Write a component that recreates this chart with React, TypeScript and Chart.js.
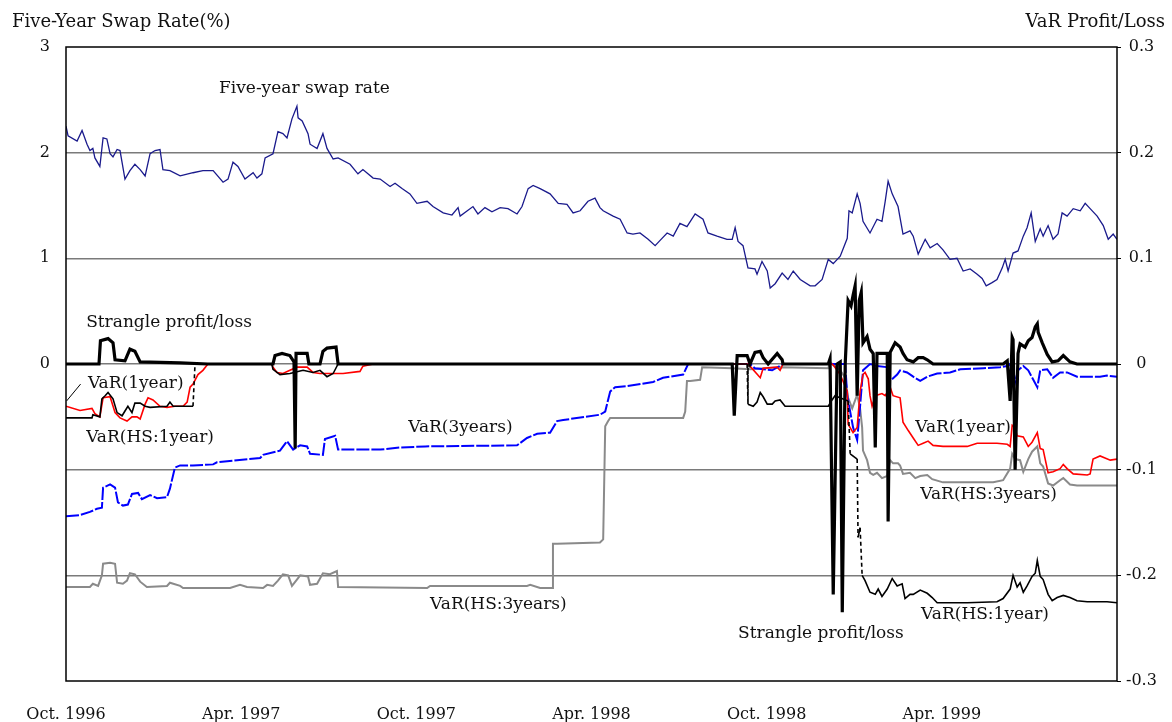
import React, { useEffect, useRef } from 'react';
import { Chart, registerables } from 'chart.js';
Chart.register(...registerables);

const FONT = '"DejaVu Serif", serif';

// x axis: months since Oct. 1996
const xTickLabels = ['Oct. 1996', 'Apr. 1997', 'Oct. 1997', 'Apr. 1998', 'Oct. 1998', 'Apr. 1999', ''];
const leftTickLabels = ['3', '2', '1', '0'];

// Five-year swap rate (%) - left axis
const swapMonths = [0, 0.07, 0.38, 0.55, 0.72, 0.82, 0.92, 0.99, 1.16, 1.27, 1.4, 1.51, 1.61, 1.75, 1.85, 2.02, 2.19, 2.36, 2.54, 2.71, 2.88, 3.05, 3.22, 3.32, 3.56, 3.91, 4.35, 4.69, 5.04, 5.38, 5.55, 5.72, 5.89, 6.13, 6.41, 6.54, 6.71, 6.82, 7.09, 7.26, 7.43, 7.57, 7.74, 7.91, 7.95, 8.09, 8.29, 8.36, 8.6, 8.8, 8.94, 9.15, 9.32, 9.73, 10.0, 10.17, 10.52, 10.76, 11.1, 11.27, 11.51, 11.78, 12.02, 12.37, 12.57, 12.92, 13.22, 13.43, 13.5, 13.94, 14.11, 14.35, 14.59, 14.87, 15.14, 15.45, 15.62, 15.83, 16.0, 16.24, 16.58, 16.86, 17.16, 17.37, 17.61, 17.88, 18.12, 18.29, 18.4, 18.74, 18.98, 19.22, 19.42, 19.66, 19.94, 20.18, 20.35, 20.59, 20.8, 21.03, 21.27, 21.55, 21.82, 21.99, 22.3, 22.64, 22.82, 22.92, 23.02, 23.19, 23.36, 23.6, 23.67, 23.84, 24.02, 24.12, 24.29, 24.53, 24.73, 24.91, 25.15, 25.49, 25.66, 25.9, 26.11, 26.28, 26.52, 26.76, 26.82, 26.93, 27.1, 27.2, 27.3, 27.54, 27.78, 27.95, 28.06, 28.16, 28.3, 28.5, 28.67, 28.91, 29.02, 29.19, 29.43, 29.6, 29.84, 30.04, 30.28, 30.52, 30.73, 30.97, 31.21, 31.38, 31.52, 31.72, 31.89, 32.07, 32.17, 32.27, 32.44, 32.61, 32.79, 32.92, 33.06, 33.2, 33.37, 33.47, 33.64, 33.81, 33.98, 34.12, 34.29, 34.5, 34.74, 34.91, 35.08, 35.32, 35.53, 35.7, 35.87, 36.0];
const swapRate = [2.25, 2.16, 2.11, 2.21, 2.08, 2.02, 2.04, 1.95, 1.87, 2.14, 2.13, 1.99, 1.96, 2.03, 2.02, 1.75, 1.83, 1.89, 1.84, 1.78, 1.99, 2.02, 2.03, 1.84, 1.83, 1.78, 1.81, 1.83, 1.83, 1.72, 1.75, 1.91, 1.87, 1.75, 1.81, 1.76, 1.8, 1.95, 1.99, 2.2, 2.18, 2.14, 2.32, 2.44, 2.33, 2.3, 2.18, 2.08, 2.04, 2.18, 2.04, 1.94, 1.95, 1.89, 1.8, 1.84, 1.76, 1.75, 1.68, 1.71, 1.66, 1.61, 1.52, 1.54, 1.49, 1.43, 1.41, 1.48, 1.4, 1.49, 1.42, 1.48, 1.44, 1.48, 1.47, 1.42, 1.49, 1.66, 1.69, 1.66, 1.61, 1.52, 1.51, 1.43, 1.45, 1.54, 1.57, 1.48, 1.45, 1.4, 1.37, 1.24, 1.23, 1.24, 1.18, 1.12, 1.17, 1.24, 1.21, 1.33, 1.3, 1.42, 1.37, 1.24, 1.21, 1.18, 1.18, 1.29, 1.16, 1.12, 0.91, 0.9, 0.85, 0.97, 0.88, 0.72, 0.76, 0.86, 0.8, 0.88, 0.8, 0.74, 0.74, 0.8, 0.99, 0.95, 1.02, 1.19, 1.45, 1.43, 1.61, 1.52, 1.35, 1.24, 1.37, 1.35, 1.54, 1.73, 1.61, 1.49, 1.23, 1.26, 1.21, 1.04, 1.18, 1.1, 1.14, 1.08, 0.99, 1.0, 0.88, 0.9, 0.85, 0.81, 0.74, 0.77, 0.8, 0.91, 0.99, 0.88, 1.05, 1.07, 1.21, 1.29, 1.43, 1.16, 1.28, 1.21, 1.31, 1.18, 1.23, 1.43, 1.4, 1.47, 1.45, 1.52, 1.47, 1.4, 1.31, 1.18, 1.23, 1.18];

// Strangle profit/loss - right axis
const strangleMonths = [0, 1.13, 1.18, 1.44, 1.61, 1.68, 2.02, 2.19, 2.36, 2.54, 3.91, 4.86, 7.09, 7.16, 7.4, 7.67, 7.81, 7.85, 7.88, 8.26, 8.32, 8.7, 8.8, 8.94, 9.25, 9.32, 22.82, 22.89, 22.99, 23.33, 23.43, 23.6, 23.78, 23.88, 24.05, 24.36, 24.53, 24.56, 26.11, 26.17, 26.28, 26.41, 26.52, 26.59, 26.69, 26.79, 26.89, 26.96, 27.03, 27.1, 27.17, 27.24, 27.3, 27.44, 27.54, 27.65, 27.72, 27.78, 28.13, 28.16, 28.23, 28.4, 28.57, 28.67, 28.81, 29.02, 29.19, 29.36, 29.5, 29.7, 32.1, 32.24, 32.34, 32.41, 32.44, 32.51, 32.61, 32.68, 32.85, 32.96, 33.09, 33.2, 33.27, 33.3, 33.44, 33.61, 33.78, 33.98, 34.16, 34.39, 34.63, 36.0];
const strangleValues = [0, 0, 0.022, 0.024, 0.02, 0.004, 0.003, 0.014, 0.012, 0.002, 0.001, 0, 0, 0.008, 0.01, 0.008, 0.002, -0.08, 0.01, 0.01, 0, 0, 0.012, 0.015, 0.016, 0, 0, -0.049, 0.008, 0.008, 0, 0.011, 0.012, 0.006, 0, 0.01, 0.004, 0, 0, 0.005, -0.218, 0, 0.002, -0.235, 0, 0.06, 0.055, 0.065, 0.074, -0.03, 0.06, 0.068, 0.02, 0.026, 0.014, 0.01, -0.079, 0.01, 0.01, -0.149, 0.011, 0.02, 0.016, 0.01, 0.004, 0.002, 0.006, 0.006, 0.004, 0, 0, 0.003, -0.035, 0.025, 0.023, -0.1, 0.01, 0.019, 0.016, 0.022, 0.025, 0.035, 0.038, 0.03, 0.02, 0.009, 0.002, 0.003, 0.008, 0.002, 0, 0];

// VaR (1 year) - red
const var1Months = [0, 0.48, 0.89, 0.99, 1.16, 1.27, 1.51, 1.68, 1.85, 2.09, 2.26, 2.43, 2.54, 2.71, 2.81, 2.98, 3.22, 3.46, 3.73, 4.01, 4.15, 4.25, 4.35, 4.52, 4.69, 4.86, 7.05, 7.09, 7.23, 7.43, 7.67, 7.91, 8.26, 8.46, 8.7, 8.94, 9.28, 9.49, 10.07, 10.17, 10.52, 23.36, 23.43, 23.78, 23.88, 24.36, 24.46, 24.56, 26.24, 26.28, 26.52, 26.76, 26.79, 26.96, 27.1, 27.2, 27.3, 27.37, 27.48, 27.54, 27.61, 27.72, 27.95, 28.06, 28.23, 28.33, 28.57, 28.67, 28.85, 29.02, 29.19, 29.36, 29.53, 29.7, 30.04, 30.87, 31.21, 31.55, 31.89, 32.24, 32.34, 32.41, 32.51, 32.58, 32.79, 32.96, 33.09, 33.27, 33.37, 33.47, 33.64, 33.81, 34.05, 34.16, 34.29, 34.5, 34.98, 35.08, 35.18, 35.42, 35.77, 36.0];
const var1Values = [-0.04, -0.044, -0.042, -0.047, -0.05, -0.032, -0.031, -0.046, -0.051, -0.054, -0.05, -0.05, -0.052, -0.038, -0.032, -0.034, -0.04, -0.041, -0.04, -0.04, -0.036, -0.022, -0.019, -0.01, -0.006, 0, 0, -0.003, -0.008, -0.009, -0.006, -0.003, -0.003, -0.008, -0.009, -0.009, -0.009, -0.009, -0.007, -0.002, 0, 0, -0.002, -0.013, -0.004, -0.003, -0.006, 0, 0, -0.001, -0.01, -0.026, -0.057, -0.065, -0.06, -0.026, -0.01, -0.008, -0.014, -0.03, -0.04, -0.03, -0.028, -0.03, -0.022, -0.03, -0.032, -0.055, -0.063, -0.07, -0.077, -0.075, -0.073, -0.077, -0.078, -0.078, -0.075, -0.075, -0.075, -0.076, -0.078, -0.058, -0.06, -0.068, -0.069, -0.078, -0.074, -0.065, -0.08, -0.081, -0.103, -0.102, -0.099, -0.095, -0.099, -0.104, -0.105, -0.104, -0.09, -0.087, -0.091, -0.09];

// VaR (3 years) - blue
const var3Months = [0, 0.48, 0.82, 1.06, 1.23, 1.27, 1.51, 1.68, 1.78, 1.95, 2.12, 2.26, 2.47, 2.6, 2.88, 3.12, 3.46, 3.56, 3.73, 3.91, 4.35, 5.04, 5.17, 6.65, 6.75, 7.33, 7.57, 7.78, 8.02, 8.26, 8.36, 8.8, 8.87, 9.22, 9.32, 9.73, 10.76, 11.45, 12.3, 15.45, 15.79, 16.14, 16.58, 16.82, 17.03, 18.29, 18.47, 18.64, 18.81, 19.22, 20.11, 20.45, 21.14, 21.31, 23.43, 23.6, 24.19, 24.56, 26.69, 26.76, 26.96, 27.1, 27.2, 27.3, 27.54, 27.78, 28.13, 28.23, 28.47, 28.57, 28.81, 29.02, 29.26, 29.5, 29.84, 30.28, 30.63, 31.42, 32.0, 32.24, 32.34, 32.51, 32.61, 32.79, 32.96, 33.27, 33.37, 33.61, 33.81, 34.05, 34.29, 34.63, 35.42, 35.66, 36.0];
const var3Values = [-0.144, -0.143, -0.14, -0.137, -0.136, -0.117, -0.114, -0.117, -0.131, -0.134, -0.133, -0.123, -0.122, -0.128, -0.124, -0.127, -0.126, -0.118, -0.098, -0.096, -0.096, -0.095, -0.093, -0.089, -0.086, -0.082, -0.073, -0.081, -0.077, -0.078, -0.085, -0.086, -0.071, -0.068, -0.081, -0.081, -0.081, -0.079, -0.078, -0.077, -0.07, -0.066, -0.065, -0.054, -0.053, -0.048, -0.045, -0.026, -0.022, -0.021, -0.017, -0.013, -0.01, 0, 0, -0.004, -0.006, 0, 0, -0.03, -0.06, -0.072, -0.04, -0.006, 0, -0.002, -0.003, -0.016, -0.01, -0.006, -0.008, -0.012, -0.016, -0.012, -0.009, -0.008, -0.005, -0.004, -0.003, -0.002, 0, -0.017, -0.006, -0.002, -0.006, -0.022, -0.006, -0.005, -0.013, -0.008, -0.008, -0.012, -0.012, -0.011, -0.012];

// VaR (HS: 1 year) - thin black
const hs1Months = [0, 0.89, 0.92, 1.16, 1.23, 1.34, 1.44, 1.61, 1.75, 1.92, 2.12, 2.26, 2.36, 2.54, 2.71, 2.88, 3.46, 3.56, 3.67, 4.35, 4.42, 7.05, 7.09, 7.33, 7.67, 8.12, 8.46, 8.7, 8.94, 9.15, 9.32, 23.33, 23.36, 23.54, 23.67, 23.78, 23.88, 24.02, 24.19, 24.29, 24.46, 24.63, 26.11, 26.24, 26.34, 26.79, 26.86, 27.1, 27.13, 27.2, 27.27, 27.37, 27.54, 27.72, 27.82, 27.95, 28.13, 28.3, 28.47, 28.64, 28.74, 28.91, 29.02, 29.26, 29.5, 29.67, 29.84, 30.87, 31.89, 32.1, 32.34, 32.44, 32.58, 32.68, 32.79, 32.92, 33.09, 33.2, 33.27, 33.37, 33.47, 33.64, 33.78, 33.95, 34.16, 34.39, 34.63, 34.98, 35.66, 36.0];
const hs1Values = [-0.051, -0.051, -0.048, -0.05, -0.033, -0.03, -0.027, -0.033, -0.046, -0.049, -0.04, -0.046, -0.037, -0.037, -0.04, -0.041, -0.04, -0.036, -0.04, -0.04, 0, 0, -0.005, -0.01, -0.009, -0.006, -0.008, -0.006, -0.012, -0.009, 0, 0, -0.038, -0.04, -0.036, -0.027, -0.031, -0.038, -0.038, -0.035, -0.034, -0.04, -0.04, -0.034, -0.03, -0.035, -0.085, -0.09, -0.164, -0.155, -0.2, -0.205, -0.216, -0.218, -0.213, -0.22, -0.213, -0.203, -0.21, -0.208, -0.222, -0.218, -0.218, -0.214, -0.217, -0.221, -0.226, -0.226, -0.225, -0.222, -0.213, -0.2, -0.211, -0.207, -0.216, -0.21, -0.201, -0.198, -0.186, -0.201, -0.204, -0.218, -0.224, -0.221, -0.219, -0.221, -0.224, -0.225, -0.225, -0.226];

// VaR (HS: 3 years) - gray
const hs3Months = [0, 0.82, 0.92, 1.1, 1.23, 1.27, 1.51, 1.68, 1.75, 1.95, 2.09, 2.19, 2.36, 2.54, 2.77, 3.46, 3.56, 3.91, 4.01, 5.62, 5.96, 6.2, 6.75, 6.89, 7.09, 7.26, 7.43, 7.61, 7.74, 7.91, 8.02, 8.29, 8.36, 8.6, 8.8, 9.04, 9.28, 9.32, 12.37, 12.47, 15.79, 15.9, 16.24, 16.65, 16.68, 16.82, 18.29, 18.4, 18.47, 18.57, 18.64, 21.14, 21.21, 21.27, 21.38, 21.72, 21.79, 22.82, 23.43, 24.46, 26.11, 26.17, 26.28, 26.52, 26.69, 26.79, 26.93, 27.1, 27.2, 27.27, 27.3, 27.44, 27.54, 27.65, 27.78, 27.95, 28.13, 28.23, 28.33, 28.5, 28.57, 28.67, 28.91, 29.09, 29.26, 29.5, 29.67, 30.04, 30.87, 31.76, 32.1, 32.34, 32.41, 32.51, 32.68, 32.79, 32.96, 33.09, 33.27, 33.37, 33.47, 33.64, 33.81, 34.05, 34.16, 34.39, 34.63, 35.42, 36.0];
const hs3Values = [-0.211, -0.211, -0.208, -0.21, -0.2, -0.189, -0.188, -0.189, -0.207, -0.208, -0.205, -0.198, -0.199, -0.206, -0.211, -0.21, -0.207, -0.21, -0.212, -0.212, -0.209, -0.211, -0.212, -0.209, -0.21, -0.205, -0.199, -0.2, -0.21, -0.204, -0.2, -0.201, -0.209, -0.208, -0.198, -0.199, -0.196, -0.211, -0.212, -0.21, -0.21, -0.209, -0.212, -0.212, -0.17, -0.17, -0.169, -0.166, -0.059, -0.054, -0.051, -0.051, -0.045, -0.016, -0.016, -0.015, -0.003, -0.004, -0.005, -0.003, -0.004, 0.002, -0.001, -0.006, -0.013, -0.032, -0.042, -0.029, -0.042, -0.06, -0.082, -0.091, -0.103, -0.105, -0.103, -0.108, -0.106, -0.091, -0.094, -0.094, -0.096, -0.104, -0.103, -0.108, -0.106, -0.105, -0.109, -0.112, -0.112, -0.112, -0.11, -0.099, -0.085, -0.09, -0.091, -0.102, -0.09, -0.083, -0.078, -0.094, -0.097, -0.113, -0.115, -0.11, -0.108, -0.114, -0.115, -0.115, -0.115];

// In-chart labels (month, right-axis value)
const noteTexts = ['Five-year swap rate', 'Strangle profit/loss', 'VaR(1year)', 'VaR(HS:1year)', 'VaR(3years)', 'VaR(HS:3years)', 'Strangle profit/loss', 'VaR(1year)', 'VaR(HS:3years)', 'VaR(HS:1year)'];
const noteMonths = [5.24, 0.69, 0.75, 0.69, 11.72, 12.47, 23.02, 29.09, 29.26, 29.29];
const noteValues = [0.2605, 0.039, -0.019, -0.07, -0.06, -0.228, -0.255, -0.06, -0.124, -0.237];
const leaderMonths = [0.5, 0.02];
const leaderValues = [-0.019, -0.035];

const zip = (xs: number[], ys: number[]) => xs.map((x, i) => ({ x, y: ys[i] }));

const overlay = {
  id: 'overlay',
  afterDatasetsDraw(chart: any) {
    const { ctx, chartArea } = chart;
    const xs = chart.scales.x;
    const yr = chart.scales.yR;
    ctx.save();
    ctx.strokeStyle = '#000';
    ctx.lineWidth = 1.5;
    ctx.strokeRect(chartArea.left, chartArea.top, chartArea.right - chartArea.left, chartArea.bottom - chartArea.top);
    ctx.fillStyle = '#111';
    ctx.font = `17px ${FONT}`;
    ctx.textAlign = 'left';
    ctx.textBaseline = 'middle';
    noteTexts.forEach((t, i) => {
      ctx.fillText(t, xs.getPixelForValue(noteMonths[i]), yr.getPixelForValue(noteValues[i]));
    });
    ctx.lineWidth = 1;
    ctx.beginPath();
    ctx.moveTo(xs.getPixelForValue(leaderMonths[0]), yr.getPixelForValue(leaderValues[0]));
    ctx.lineTo(xs.getPixelForValue(leaderMonths[1]), yr.getPixelForValue(leaderValues[1]));
    ctx.stroke();
    ctx.font = `18px ${FONT}`;
    ctx.fillText('Five-Year Swap Rate(%)', 12, 22);
    ctx.textAlign = 'right';
    ctx.fillText('VaR Profit/Loss', 1165, 22);
    ctx.restore();
  },
};

export default function App() {
  const ref = useRef<HTMLCanvasElement>(null);
  useEffect(() => {
    if (!ref.current) return;
    const bigJump = (c: any) => {
      const dx = c.p1.parsed.x - c.p0.parsed.x;
      const dy = Math.abs(c.p1.parsed.y - c.p0.parsed.y);
      return dy > 0.02 && dx < 0.15 ? [4, 3] : undefined;
    };
    const chart = new Chart(ref.current, {
      type: 'line',
      data: {
        datasets: [
          { label: 'Strangle profit/loss', data: zip(strangleMonths, strangleValues), yAxisID: 'yR', borderColor: '#000', borderWidth: 3.2, order: 0 },
          { label: 'Five-year swap rate', data: zip(swapMonths, swapRate), yAxisID: 'yL', borderColor: '#1a1a8c', borderWidth: 1.3, order: 1 },
          { label: 'VaR(HS:1year)', data: zip(hs1Months, hs1Values), yAxisID: 'yR', borderColor: '#000', borderWidth: 1.6, order: 2, segment: { borderDash: bigJump } },
          { label: 'VaR(1year)', data: zip(var1Months, var1Values), yAxisID: 'yR', borderColor: '#ff0000', borderWidth: 1.6, order: 3 },
          { label: 'VaR(3years)', data: zip(var3Months, var3Values), yAxisID: 'yR', borderColor: '#0000ff', borderWidth: 2, borderDash: [13, 2], order: 4 },
          { label: 'VaR(HS:3years)', data: zip(hs3Months, hs3Values), yAxisID: 'yR', borderColor: '#8a8a8a', borderWidth: 2, order: 5 },
        ] as any,
      },
      options: {
        animation: false,
        responsive: false,
        maintainAspectRatio: false,
        devicePixelRatio: 1,
        layout: { padding: { top: 47, bottom: 0, left: 0, right: 0 } },
        elements: { point: { radius: 0 }, line: { tension: 0 } },
        plugins: { legend: { display: false }, tooltip: { enabled: false }, title: { display: false } },
        scales: {
          x: {
            type: 'linear',
            min: 0,
            max: 36,
            afterFit: (s: any) => { s.height = 41; },
            grid: { display: false },
            border: { display: false },
            ticks: {
              stepSize: 6,
              autoSkip: false,
              maxRotation: 0,
              padding: 16,
              color: '#111',
              font: { family: FONT, size: 16 },
              callback: (v: any) => xTickLabels[Math.round(Number(v) / 6)] ?? '',
            },
          },
          yL: {
            type: 'linear',
            position: 'left',
            min: -3,
            max: 3,
            afterFit: (s: any) => { s.width = 66; },
            border: { display: false },
            grid: {
              drawTicks: false,
              lineWidth: 1.5,
              color: (c: any) => (Math.abs(c.tick.value) === 3 ? 'rgba(0,0,0,0)' : '#7a7a7a'),
            },
            ticks: {
              stepSize: 1,
              padding: 16,
              color: '#111',
              font: { family: FONT, size: 16 },
              callback: (v: any) => { const n = Number(v); return n >= 0 ? leftTickLabels[3 - n] : ''; },
            },
          },
          yR: {
            type: 'linear',
            position: 'right',
            min: -0.3,
            max: 0.3,
            afterFit: (s: any) => { s.width = 55; },
            border: { display: false },
            grid: { drawOnChartArea: false, drawTicks: true, tickLength: 4, color: '#000' },
            ticks: {
              stepSize: 0.1,
              padding: 5,
              crossAlign: 'center',
              color: '#111',
              font: { family: FONT, size: 16 },
              callback: (v: any) => String(Math.round(Number(v) * 10) / 10),
            },
          },
        },
      } as any,
      plugins: [overlay],
    });
    return () => chart.destroy();
  }, []);
  return (
    <div style={{ position: 'absolute', left: 0, top: 0, width: 1172, height: 722, background: '#fff' }}>
      <canvas ref={ref} width={1172} height={722} style={{ width: 1172, height: 722 }} />
    </div>
  );
}
